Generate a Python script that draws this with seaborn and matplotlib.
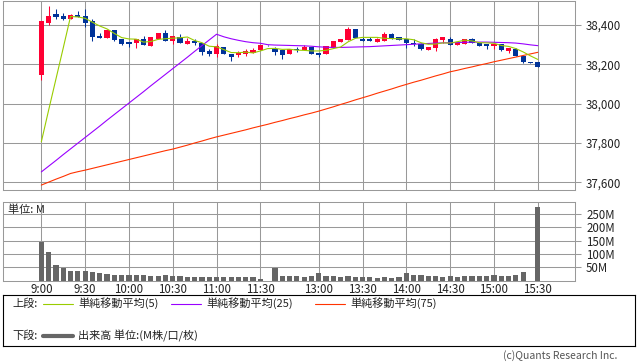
import matplotlib
matplotlib.use("Agg")
import matplotlib.pyplot as plt
import numpy as np
import pandas as pd
import seaborn as sns
from matplotlib.lines import Line2D
from matplotlib.ticker import FuncFormatter

sns.set_theme(style="white")
plt.rcParams["font.family"] = ["Noto Sans CJK JP", "DejaVu Sans"]

# 5分足: 9:00-11:30, 昼休みの空き枠1つ, 12:30-15:30
tick_labels = ["9:00", "9:30", "10:00", "10:30", "11:00", "11:30",
               "13:00", "13:30", "14:00", "14:30", "15:00", "15:30"]

opens = [38145, 38410, 38455, 38445, 38430, 38450, 38445, 38420, 38345, 38335,
         38375, 38330, 38315, 38310, 38330, 38295, 38330, 38360, 38320, 38340,
         38305, 38320, 38310, 38270, 38250, 38290, 38250, 38245, 38250, 38260,
         38275, 38300, 38280, 38275, 38250, 38280, 38275, 38290, 38260, 38250,
         38285, 38315, 38325, 38380, 38330, 38330, 38315, 38320, 38355, 38340,
         38330, 38310, 38305, 38275, 38285, 38325, 38330, 38300, 38305, 38330,
         38310, 38305, 38295, 38305, 38270, 38280, 38240, 38210, 38210]
highs = [38420, 38495, 38480, 38460, 38455, 38470, 38480, 38430, 38360, 38375,
         38375, 38330, 38315, 38330, 38345, 38340, 38360, 38375, 38345, 38355,
         38335, 38330, 38310, 38280, 38305, 38290, 38250, 38270, 38280, 38285,
         38300, 38300, 38290, 38275, 38280, 38290, 38300, 38290, 38260, 38295,
         38320, 38330, 38390, 38380, 38340, 38340, 38335, 38365, 38360, 38340,
         38330, 38330, 38310, 38290, 38335, 38340, 38340, 38315, 38330, 38335,
         38310, 38305, 38305, 38305, 38285, 38285, 38240, 38210, 38210]
lows = [38120, 38400, 38430, 38425, 38430, 38440, 38390, 38320, 38335, 38335,
        38320, 38300, 38290, 38285, 38300, 38295, 38330, 38320, 38305, 38310,
        38305, 38300, 38245, 38240, 38235, 38250, 38215, 38235, 38240, 38260,
        38275, 38295, 38245, 38225, 38250, 38265, 38275, 38250, 38235, 38250,
        38285, 38315, 38325, 38335, 38320, 38320, 38315, 38320, 38330, 38325,
        38285, 38295, 38275, 38275, 38270, 38310, 38300, 38300, 38305, 38310,
        38295, 38280, 38280, 38270, 38260, 38240, 38205, 38205, 38185]
closes = [38420, 38445, 38440, 38430, 38450, 38440, 38410, 38340, 38335, 38375,
          38325, 38305, 38305, 38330, 38300, 38340, 38360, 38320, 38345, 38310,
          38320, 38310, 38265, 38255, 38295, 38250, 38235, 38260, 38270, 38275,
          38300, 38296, 38265, 38245, 38280, 38275, 38290, 38250, 38245, 38295,
          38320, 38330, 38380, 38335, 38320, 38320, 38330, 38355, 38330, 38325,
          38310, 38305, 38280, 38290, 38330, 38340, 38300, 38315, 38330, 38310,
          38295, 38295, 38305, 38275, 38285, 38240, 38210, 38207, 38185]
volumes = [146, 108, 59, 49, 36, 36, 36, 32, 29, 25,
           21, 21, 21, 21, 21, 18, 18, 21, 18, 18,
           14, 14, 14, 14, 14, 14, 14, 14, 14, 14,
           6, 0, 47, 17, 17, 17, 14, 17, 30, 17,
           17, 14, 17, 14, 14, 14, 10, 14, 10, 14,
           30, 21, 21, 17, 17, 14, 17, 14, 17, 17,
           17, 17, 21, 17, 17, 21, 32, 0, 275]
sma5 = [37806, 37967, 38125, 38283, 38443, 38441, 38434, 38414, 38395, 38380,
        38357, 38336, 38329, 38328, 38313, 38316, 38327, 38330, 38333, 38335,
        38339, 38321, 38310, 38292, 38289, 38275, 38260, 38259, 38262, 38258,
        38268, 38280, 38281, 38276, 38277, 38272, 38271, 38268, 38268, 38271,
        38280, 38288, 38314, 38332, 38337, 38337, 38337, 38332, 38331, 38330,
        38330, 38325, 38310, 38302, 38303, 38309, 38308, 38315, 38323, 38319,
        38310, 38309, 38307, 38296, 38291, 38280, 38263, 38243, 38225]
sma25 = [37653, 37682, 37711, 37741, 37770, 37799, 37828, 37857, 37886, 37916,
         37945, 37974, 38003, 38032, 38061, 38091, 38120, 38149, 38178, 38207,
         38236, 38266, 38295, 38324, 38353, 38340, 38330, 38322, 38315, 38310,
         38307, 38300, 38298, 38297, 38296, 38295, 38294, 38292, 38289, 38287,
         38286, 38286, 38287, 38288, 38289, 38290, 38292, 38294, 38296, 38298,
         38300, 38302, 38304, 38306, 38308, 38309, 38310, 38311, 38312, 38313,
         38313, 38313, 38312, 38311, 38310, 38308, 38304, 38299, 38295]
sma75 = [37586, 37601, 37616, 37630, 37645, 37654, 37662, 37671, 37680, 37689,
         37698, 37707, 37716, 37725, 37734, 37743, 37752, 37761, 37769, 37779,
         37789, 37800, 37810, 37821, 37831, 37840, 37849, 37858, 37867, 37877,
         37886, 37895, 37905, 37914, 37924, 37933, 37943, 37952, 37962, 37973,
         37984, 37996, 38007, 38019, 38030, 38041, 38053, 38064, 38075, 38087,
         38098, 38109, 38119, 38130, 38141, 38151, 38162, 38170, 38179, 38187,
         38196, 38204, 38213, 38221, 38229, 38237, 38245, 38253, 38261]

UP, DOWN = "#FF0033", "#003399"
C5, C25, C75 = "#99CC00", "#9900FF", "#FF3300"
GRID = "#999999"

# 枠ごとの時刻ラベル（昼休みの空き枠は空文字）
morning = pd.date_range("09:00", "11:30", freq="5min").strftime("%-H:%M").tolist()
afternoon = pd.date_range("12:30", "15:30", freq="5min").strftime("%-H:%M").tolist()
slot_times = morning + [""] + afternoon

df = pd.DataFrame({"time": slot_times, "open": opens, "high": highs, "low": lows,
                   "close": closes, "volume": volumes,
                   "sma5": sma5, "sma25": sma25, "sma75": sma75})
df["pos"] = np.arange(len(df))
df["color"] = np.where(df["close"] > df["open"], UP, DOWN)
df["body_lo"] = df[["open", "close"]].min(axis=1)
df["body_h"] = (df["close"] - df["open"]).abs().clip(lower=4)
tick_pos = [df.index[df["time"] == t][0] for t in tick_labels]

W, H = 638, 362
fig = plt.figure(figsize=(W / 100, H / 100), dpi=100)
ax = fig.add_axes([3 / W, 1 - 190 / H, 572 / W, 189 / H])
axv = fig.add_axes([3 / W, 1 - 280.6 / H, 572 / W, 78.9 / H])
xlim = (-5.25, 73.1)

# 上段: ローソク足 + 移動平均
ax.vlines(df["pos"], df["low"], df["high"], colors=df["color"], lw=0.75, zorder=2)
ax.bar(df["pos"], df["body_h"], bottom=df["body_lo"], width=0.72,
       color=df["color"], linewidth=0, zorder=2)
for col, c in [("sma75", C75), ("sma25", C25), ("sma5", C5)]:
    sns.lineplot(data=df, x="pos", y=col, ax=ax, color=c, lw=0.8, zorder=3)
ax.set_xlim(*xlim)
ax.set_ylim(37561, 38522)
ax.set_yticks([37600, 37800, 38000, 38200, 38400])
ax.yaxis.set_major_formatter(FuncFormatter(lambda v, _: f"{v:,.0f}"))
ax.set_xticks(tick_pos)
ax.set_xticklabels([])

# 下段: 出来高
sns.barplot(data=df, x="pos", y="volume", ax=axv, color="#666666", width=0.72,
            saturation=1, native_scale=True, linewidth=0)
axv.set_xlim(*xlim)
axv.set_ylim(0, 296)
axv.set_yticks([50, 100, 150, 200, 250])
axv.yaxis.set_major_formatter(FuncFormatter(lambda v, _: f"{v:.0f}M"))
axv.set_xticks(tick_pos)
axv.set_xticklabels(tick_labels)

for a in (ax, axv):
    a.set_xlabel("")
    a.set_ylabel("")
    a.grid(True, color=GRID, lw=0.75)
    a.set_axisbelow(True)
    a.yaxis.tick_right()
    a.tick_params(axis="y", length=4, width=0.75, color=GRID, pad=4,
                  labelsize=8.3, labelcolor="#222222", direction="out")
    a.tick_params(axis="x", length=0, pad=2, labelsize=8.3, labelcolor="#222222")
    for s in a.spines.values():
        s.set_color(GRID)
        s.set_linewidth(0.75)

fig.text(8 / W, 1 - 210 / H, "単位: M", fontsize=8, va="center", color="#222222")

# 凡例ボックス
axl = fig.add_axes([3 / W, 1 - 346 / H, 632 / W, 51 / H])
axl.set_xlim(0, 632)
axl.set_ylim(51, 0)
axl.set_xticks([])
axl.set_yticks([])
for s in axl.spines.values():
    s.set_color("black")
    s.set_linewidth(0.8)
txt = dict(fontsize=8, va="center", color="#222222")
axl.text(9, 8.5, "上段:", **txt)
for x0, c, label in [(40, C5, "単純移動平均(5)"), (168, C25, "単純移動平均(25)"),
                     (312, C75, "単純移動平均(75)")]:
    axl.add_line(Line2D([x0, x0 + 30], [8.5, 8.5], color=c, lw=0.8))
    axl.text(x0 + 35, 8.5, label, **txt)
axl.text(9, 41, "下段:", **txt)
axl.add_line(Line2D([40, 70], [41, 41], color="#666666", lw=3))
axl.text(75, 41, "出来高 単位:(M株/口/枚)", **txt)

fig.text(617 / W, 1 - 356 / H, "(c)Quants Research Inc.", ha="right", va="center",
         fontsize=7.5, color="#555555")

fig.savefig("out.png", dpi=100, facecolor="white")
